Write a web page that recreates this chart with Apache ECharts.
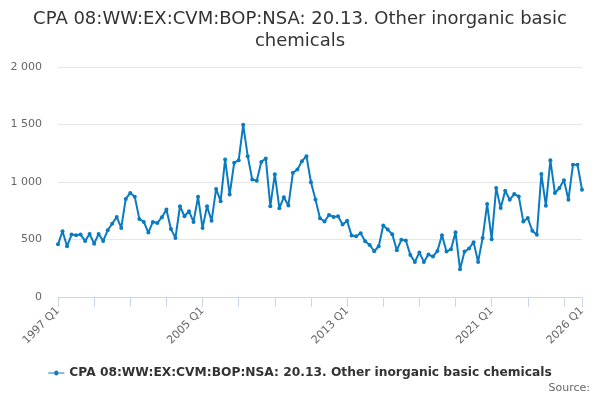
<!DOCTYPE html>
<html><head><meta charset="utf-8">
<script src="https://cdn.jsdelivr.net/npm/echarts@6/dist/echarts.min.js"></script>
<style>html,body{margin:0;padding:0;background:#fff}#c{width:600px;height:400px}</style>
</head><body><div id="c"></div>
<script>
var titleText = 'CPA 08:WW:EX:CVM:BOP:NSA: 20.13. Other inorganic basic\nchemicals';
var seriesName = 'CPA 08:WW:EX:CVM:BOP:NSA: 20.13. Other inorganic basic chemicals';
var startYear = 1997, endYear = 2026;
var categories = [];
for (var y = startYear; y <= endYear; y++) {
  for (var q = 1; q <= 4; q++) {
    if (y === endYear && q > 1) break;
    categories.push(y + ' Q' + q);
  }
}
var values = [
  458,572,441,543,537,543,488,548,464,548,488,580,638,696,601,853,905,871,679,653,
  560,653,644,694,760,592,514,789,702,746,653,871,601,789,662,940,833,1196,891,1167,
  1190,1497,1225,1021,1010,1175,1204,789,1068,772,868,795,1080,1109,1181,1225,998,847,685,656,
  714,696,702,630,662,534,528,554,485,453,398,441,621,586,546,406,497,491,366,305,
  387,305,369,352,401,538,395,416,564,241,395,422,477,305,512,808,503,948,773,924,
  846,895,875,657,686,576,541,1070,794,1189,904,948,1015,846,1151,1151,933
];
var yTicks = [0, 500, 1000, 1500, 2000];

var chart = echarts.init(document.getElementById('c'));
var lastIdx = categories.length - 1;
chart.setOption({
  animation: false,
  textStyle: { fontFamily: 'DejaVu Sans' },
  title: {
    text: titleText, left: 'center', top: 3,
    textStyle: { fontSize: 18, fontWeight: 'normal', color: '#333', lineHeight: 22, fontFamily: 'DejaVu Sans', align: 'center' }
  },
  graphic: [{
    type: 'text', right: 10, top: 383,
    style: { text: 'Source:', fill: '#666', fontSize: 11, fontFamily: 'DejaVu Sans' }
  }],
  legend: {
    bottom: 16, left: 'center', itemWidth: 16, itemHeight: 8,
    textStyle: { fontSize: 12.25, fontWeight: 'bold', color: '#333', fontFamily: 'DejaVu Sans' },
    data: [{ name: seriesName, icon: 'path://M0,4L6,4A2,2 0 1 1 10,4L16,4L16,5L10,5A2,2 0 1 1 6,5L0,5Z' }]
  },
  grid: { left: 58, right: 18, top: 67, bottom: 103, containLabel: false },
  xAxis: {
    type: 'category', data: categories, boundaryGap: false,
    axisLine: { lineStyle: { color: '#ccd6eb' } },
    axisTick: { length: 10, lineStyle: { color: '#ccd6eb' },
      interval: function (i) { return i % 8 === 0 || i === lastIdx; } },
    axisLabel: { rotate: 45, color: '#666', fontSize: 11, margin: 12,
      interval: function (i) { return i % 32 === 0 || i === lastIdx; } },
    splitLine: { show: false }
  },
  yAxis: {
    type: 'value', min: yTicks[0], max: yTicks[yTicks.length - 1], interval: 500,
    axisLine: { show: false }, axisTick: { show: false },
    axisLabel: { color: '#666', fontSize: 11, margin: 16,
      formatter: function (v) { return String(v).replace(/\B(?=(\d{3})+(?!\d))/g, ' '); } },
    splitLine: { lineStyle: { color: '#e6e6e6' } }
  },
  series: [{
    name: seriesName, type: 'line', data: values,
    symbol: 'circle', symbolSize: 4, showSymbol: true, showAllSymbol: true,
    lineStyle: { width: 2, color: '#0a7bc1' },
    itemStyle: { color: '#0a7bc1' }
  }]
});
</script></body></html>
